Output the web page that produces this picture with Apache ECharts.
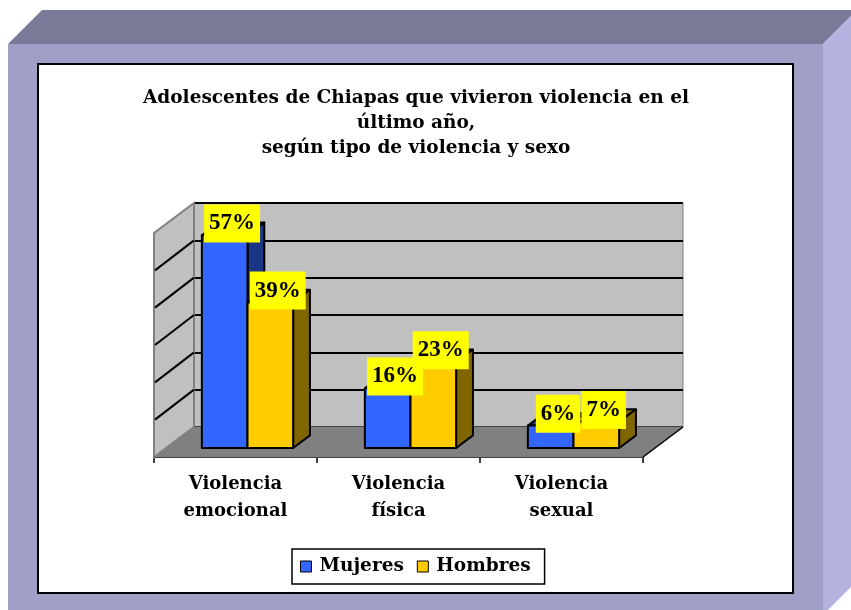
<!DOCTYPE html>
<html>
<head>
<meta charset="utf-8">
<script src="https://cdn.jsdelivr.net/npm/echarts@6/dist/echarts.min.js"></script>
<style>
  html, body { margin: 0; padding: 0; background: #fff; }
  #chart { width: 851px; height: 610px; }
</style>
</head>
<body>
<div id="chart"></div>
<script>
// datos del grafico (porcentajes)
const categorias = ['Violencia\nemocional', 'Violencia\nfísica', 'Violencia\nsexual'];
const mujeres = [57, 16, 6];
const hombres = [39, 23, 7];
// eje y: min, max, intervalo
const ejeY = [0, 60, 10];

// profundidad del piso 3d y posicion de las barras dentro de ella
const DX = 40, DY = 30;
const FRENTE = 0.3, FONDO = 0.42;
// plano frontal del grafico
const PLANO = { left: 154, top: 233, width: 489, height: 224 };

const serif = '"DejaVu Serif"';

const paredes = (params, api) => {
  const cs = params.coordSys;
  const x0 = cs.x, x1 = cs.x + cs.width;
  const yb = api.coord([0, ejeY[0]])[1];
  const yt = api.coord([0, ejeY[1]])[1];
  const hijos = [
    // piso
    { type: 'polygon', shape: { points: [[x0, yb], [x1, yb], [x1 + DX, yb - DY], [x0 + DX, yb - DY]] },
      style: { fill: '#808080', stroke: '#808080', lineWidth: 1 } },
    // pared izquierda
    { type: 'polygon', shape: { points: [[x0, yt], [x0 + DX, yt - DY], [x0 + DX, yb - DY], [x0, yb]] },
      style: { fill: '#c0c0c0', stroke: '#808080', lineWidth: 2 } },
    { type: 'line', shape: { x1: x1, y1: yb, x2: x1 + DX, y2: yb - DY },
      style: { stroke: '#000', lineWidth: 1.5 } }
  ];
  for (let v = ejeY[0] + ejeY[2]; v < ejeY[1]; v += ejeY[2]) {
    const y = api.coord([0, v])[1];
    hijos.push({ type: 'line', shape: { x1: x0 + 1, y1: y, x2: x0 + DX, y2: y - DY },
      style: { stroke: '#000', lineWidth: 2 } });
  }
  return { type: 'group', children: hijos };
};

function barra(lado, frente, oscuro) {
  return (params, api) => {
    const cat = api.value(0), val = api.value(1);
    const arriba = api.coord([cat, val]);
    const base = api.coord([cat, 0]);
    const bw = api.size([1, 0])[0] * 0.28;
    const xl = arriba[0] + DX * FRENTE + (lado === 0 ? -bw : 0);
    const xr = xl + bw;
    const yt = arriba[1] - DY * FRENTE, yb = base[1] - DY * FRENTE;
    const dx = DX * FONDO, dy = -DY * FONDO;
    const borde = { stroke: '#000', lineWidth: 2, lineJoin: 'round' };
    return {
      type: 'group',
      children: [
        { type: 'polygon', shape: { points: [[xl, yt], [xr, yt], [xr + dx, yt + dy], [xl + dx, yt + dy]] },
          style: Object.assign({ fill: oscuro }, borde) },
        { type: 'polygon', shape: { points: [[xr, yt], [xr + dx, yt + dy], [xr + dx, yb + dy], [xr, yb]] },
          style: Object.assign({ fill: oscuro }, borde) },
        { type: 'rect', shape: { x: xl, y: yt, width: bw, height: yb - yt },
          style: Object.assign({ fill: frente }, borde) },
        { type: 'text', z2: 100, x: (xl + xr) / 2 + dx / 2 - 1, y: yt + dy / 2 - 5.5,
          style: { text: val + '%', align: 'center', verticalAlign: 'middle',
            fontFamily: '"Liberation Serif"', fontWeight: 'bold', fontSize: 23, lineHeight: 24,
            fill: '#000', backgroundColor: '#ffff00', padding: [7, 5] } }
      ]
    };
  };
}

const myChart = echarts.init(document.getElementById('chart'));

const option = {
  backgroundColor: '#fff',
  animation: false,
  graphic: [
    { type: 'polygon', z: -10, shape: { points: [[8, 44], [42, 10], [857, 10], [823, 44]] }, style: { fill: '#7a7a98' } },
    { type: 'polygon', z: -10, shape: { points: [[823, 44], [857, 10], [857, 581], [823, 615]] }, style: { fill: '#b4b3e0' } },
    { type: 'rect', z: -10, shape: { x: 8, y: 44, width: 815, height: 566 }, style: { fill: '#a09fc8' } },
    { type: 'rect', z: -9, shape: { x: 38, y: 64, width: 755, height: 529 }, style: { fill: '#fff', stroke: '#000', lineWidth: 2 } }
  ],
  title: {
    text: 'Adolescentes de Chiapas que vivieron violencia en el\núltimo año,\nsegún tipo de violencia y sexo',
    left: 416,
    top: 86,
    padding: 0,
    textAlign: 'center',
    textStyle: { fontFamily: serif, fontWeight: 'bold', fontSize: 18.5, lineHeight: 25, color: '#000' }
  },
  legend: {
    data: ['Mujeres', 'Hombres'],
    left: 292,
    top: 549,
    padding: [8, 14, 8, 8],
    itemGap: 13,
    itemWidth: 11,
    itemHeight: 11,
    icon: 'rect',
    borderColor: '#000',
    borderWidth: 1.5,
    backgroundColor: '#fff',
    itemStyle: { borderColor: '#000', borderWidth: 1 },
    textStyle: { fontFamily: serif, fontWeight: 'bold', fontSize: 18.5, color: '#000', padding: [0, 0, 0, 3] }
  },
  grid: [
    // pared del fondo
    { left: PLANO.left + DX, top: PLANO.top - DY, width: PLANO.width, height: PLANO.height,
      show: true, backgroundColor: '#c0c0c0', borderColor: '#808080', borderWidth: 1 },
    // plano frontal
    { left: PLANO.left, top: PLANO.top, width: PLANO.width, height: PLANO.height }
  ],
  xAxis: [
    { gridIndex: 0, type: 'category', data: categorias, show: false },
    { gridIndex: 1, type: 'category', data: categorias,
      axisLine: { lineStyle: { color: '#000', width: 2 } },
      axisTick: { show: true, length: 6, lineStyle: { color: '#000', width: 1.5 } },
      axisLabel: { interval: 0, margin: 14, color: '#000', fontFamily: serif, fontWeight: 'bold',
        fontSize: 18, lineHeight: 27 },
      splitLine: { show: false } }
  ],
  yAxis: [
    { gridIndex: 0, type: 'value', min: ejeY[0], max: ejeY[1], interval: ejeY[2],
      axisLine: { show: false }, axisTick: { show: false }, axisLabel: { show: false },
      splitLine: { show: true, lineStyle: { color: '#000', width: 2 } } },
    { gridIndex: 1, type: 'value', min: ejeY[0], max: ejeY[1], interval: ejeY[2], show: false,
      splitLine: { show: false } }
  ],
  series: [
    { type: 'custom', name: 'paredes', xAxisIndex: 1, yAxisIndex: 1, clip: false, silent: true,
      data: [[0, 0]], renderItem: paredes },
    { type: 'custom', name: 'Mujeres', xAxisIndex: 1, yAxisIndex: 1, clip: false,
      itemStyle: { color: '#3366ff' },
      data: mujeres.map((v, i) => [i, v]), renderItem: barra(0, '#3366ff', '#1c3585') },
    { type: 'custom', name: 'Hombres', xAxisIndex: 1, yAxisIndex: 1, clip: false,
      itemStyle: { color: '#ffcc00' },
      data: hombres.map((v, i) => [i, v]), renderItem: barra(1, '#ffcc00', '#806600') }
  ]
};

myChart.setOption(option);
</script>
</body>
</html>
